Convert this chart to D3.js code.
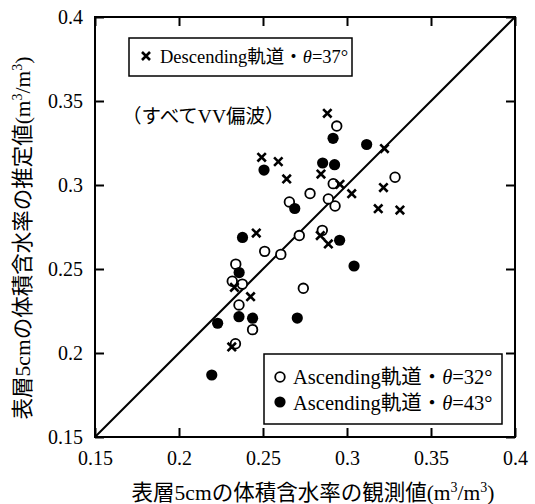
<!DOCTYPE html>
<html><head><meta charset="utf-8">
<script src="https://cdn.jsdelivr.net/npm/d3@7"></script>
<style>
body{margin:0;background:#fff;}
svg{display:block;}
text{font-family:"Liberation Serif","Noto Sans CJK JP",serif;fill:#000;}
</style></head>
<body><svg id="c" width="535" height="504"></svg>
<script>
const ticks = [0.15, 0.2, 0.25, 0.3, 0.35, 0.4];
const tickLabels = ["0.15", "0.2", "0.25", "0.3", "0.35", "0.4"];

const descX = [0.2883,0.2492,0.2591,0.2641,0.2845,0.2958,0.3223,0.3217,0.3028,0.3186,0.3315,0.2460,0.2841,0.2889,0.2330,0.2426,0.2314];
const descY = [0.3427,0.3165,0.3139,0.3036,0.3065,0.3004,0.3217,0.2985,0.2948,0.2859,0.2851,0.2714,0.2699,0.2649,0.2391,0.2335,0.2036];

const asc32X = [0.2939,0.2918,0.3286,0.2780,0.2657,0.2889,0.2929,0.2853,0.2716,0.2510,0.2606,0.2338,0.2317,0.2377,0.2357,0.2740,0.2438,0.2336];
const asc32Y = [0.3351,0.3008,0.3046,0.2949,0.2899,0.2917,0.2875,0.2730,0.2699,0.2605,0.2587,0.2529,0.2427,0.2410,0.2286,0.2385,0.2139,0.2055];

const asc43X = [0.2917,0.3117,0.2855,0.2926,0.2506,0.2689,0.2956,0.2378,0.3042,0.2358,0.2357,0.2438,0.2704,0.2230,0.2195];
const asc43Y = [0.3278,0.3241,0.3131,0.3121,0.3089,0.2860,0.2671,0.2688,0.2518,0.2479,0.2216,0.2207,0.2208,0.2177,0.1869];

const xTitle = "表層5cmの体積含水率の観測値";
const yTitle = "表層5cmの体積含水率の推定値";
const note = "（すべてVV偏波）";

(function () {
const svg = d3.select("#c");
const L = 95, R = 515, T = 17, B = 437;
const x = d3.scaleLinear().domain([0.15, 0.4]).range([L, R]);
const y = d3.scaleLinear().domain([0.15, 0.4]).range([B, T]);

// 1:1 line
svg.append("line").attr("x1", x(0.15)).attr("y1", y(0.15)).attr("x2", x(0.4)).attr("y2", y(0.4))
  .attr("stroke", "#000").attr("stroke-width", 2);

// axes with inward ticks
const tickLen = 9;
const fmt = (d) => tickLabels[ticks.indexOf(d)];
const ax = (g, axis) => { g.call(axis); g.select(".domain").remove(); g.selectAll("line").attr("stroke","#000").attr("stroke-width",2); };
const gBottom = svg.append("g").attr("transform", `translate(0,${B})`);
ax(gBottom, d3.axisBottom(x).tickValues(ticks).tickFormat(fmt).tickSizeInner(-tickLen).tickSizeOuter(0).tickPadding(14));
const gLeft = svg.append("g").attr("transform", `translate(${L},0)`);
ax(gLeft, d3.axisLeft(y).tickValues(ticks).tickFormat(fmt).tickSizeInner(-tickLen).tickSizeOuter(0).tickPadding(12));
const gTop = svg.append("g").attr("transform", `translate(0,${T})`);
ax(gTop, d3.axisTop(x).tickValues(ticks).tickFormat("").tickSizeInner(-tickLen).tickSizeOuter(0));
const gRight = svg.append("g").attr("transform", `translate(${R},0)`);
ax(gRight, d3.axisRight(y).tickValues(ticks).tickFormat("").tickSizeInner(-tickLen).tickSizeOuter(0));
svg.selectAll(".tick text").attr("font-family", "Liberation Serif").attr("font-size", 20).attr("fill", "#000");

// frame
svg.append("rect").attr("x", L).attr("y", T).attr("width", R - L).attr("height", B - T)
  .attr("fill", "none").attr("stroke", "#000").attr("stroke-width", 2);

// markers
const crossPath = (cx, cy, s) => `M${cx-s},${cy-s}L${cx+s},${cy+s}M${cx-s},${cy+s}L${cx+s},${cy-s}`;
const pts = (xs, ys) => xs.map((v, i) => [v, ys[i]]);

svg.append("g").selectAll("circle").data(pts(asc32X, asc32Y)).join("circle")
  .attr("cx", d => x(d[0])).attr("cy", d => y(d[1])).attr("r", 4.8)
  .attr("fill", "#fff").attr("stroke", "#000").attr("stroke-width", 1.8);
svg.append("g").selectAll("circle").data(pts(asc43X, asc43Y)).join("circle")
  .attr("cx", d => x(d[0])).attr("cy", d => y(d[1])).attr("r", 5.6)
  .attr("fill", "#000");
svg.append("g").selectAll("path").data(pts(descX, descY)).join("path")
  .attr("d", d => crossPath(x(d[0]), y(d[1]), 4.2))
  .attr("stroke", "#000").attr("stroke-width", 2.6).attr("fill", "none");

// legend 1
svg.append("rect").attr("x", 129).attr("y", 38).attr("width", 223).attr("height", 38)
  .attr("fill", "#fff").attr("stroke", "#000").attr("stroke-width", 1.5);
svg.append("path").attr("d", crossPath(146, 56, 4)).attr("stroke", "#000").attr("stroke-width", 2.6);
const t1 = svg.append("text").attr("x", 160).attr("y", 63).attr("font-size", 18.5);
t1.append("tspan").text("Descending軌道・");
t1.append("tspan").attr("font-style", "italic").text("θ");
t1.append("tspan").text("=37°");

// note
svg.append("text").attr("x", 122).attr("y", 123).attr("font-size", 19.5).text(note);

// legend 2
svg.append("rect").attr("x", 264).attr("y", 354).attr("width", 238).attr("height", 70)
  .attr("fill", "#fff").attr("stroke", "#000").attr("stroke-width", 1.5);
svg.append("circle").attr("cx", 280).attr("cy", 377).attr("r", 4.8).attr("fill", "#fff").attr("stroke", "#000").attr("stroke-width", 1.8);
svg.append("circle").attr("cx", 280).attr("cy", 402).attr("r", 5.6).attr("fill", "#000");
const legRows = [["=32°", 384], ["=43°", 410]];
legRows.forEach(([s, yy]) => {
  const t = svg.append("text").attr("x", 293).attr("y", yy).attr("font-size", 20.5);
  t.append("tspan").text("Ascending軌道・");
  t.append("tspan").attr("font-style", "italic").text("θ");
  t.append("tspan").text(s);
});

// axis titles
const fs = 21.5, sup = 14, up = 8;
const xt = svg.append("text").attr("x", 313).attr("y", 500).attr("text-anchor", "middle").attr("font-size", fs);
xt.append("tspan").text(xTitle + "(m");
xt.append("tspan").attr("dy", -up).attr("font-size", sup).text("3");
xt.append("tspan").attr("dy", up).text("/m");
xt.append("tspan").attr("dy", -up).attr("font-size", sup).text("3");
xt.append("tspan").attr("dy", up).text(")");

const yt = svg.append("text").attr("transform", "translate(30,238) rotate(-90)").attr("text-anchor", "middle").attr("font-size", fs);
yt.append("tspan").text(yTitle + "(m");
yt.append("tspan").attr("dy", -up).attr("font-size", sup).text("3");
yt.append("tspan").attr("dy", up).text("/m");
yt.append("tspan").attr("dy", -up).attr("font-size", sup).text("3");
yt.append("tspan").attr("dy", up).text(")");
})();
</script></body></html>
